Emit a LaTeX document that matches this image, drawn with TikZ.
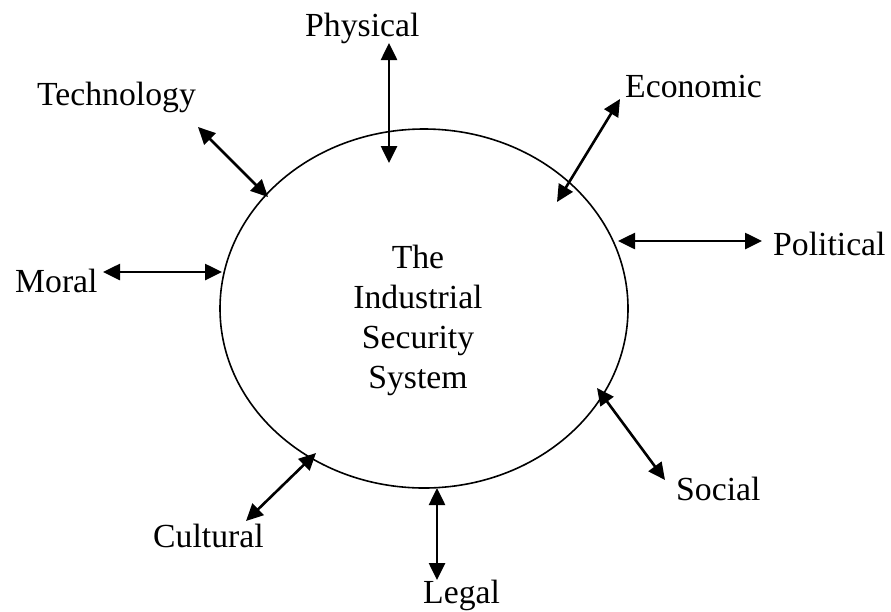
\documentclass[tikz,border=0pt]{standalone}
\usepackage{fontspec}
\setmainfont{Liberation Serif}
\usetikzlibrary{arrows.meta,shapes.geometric}
\begin{document}
\begin{tikzpicture}[x=1pt,y=-1pt,
  lbl/.style={font=\fontsize{33.7}{40}\selectfont, inner sep=0pt, anchor=base west},
  link/.style={line width=2.6pt, {Triangle[length=17pt,width=16pt]}-{Triangle[length=17pt,width=16pt]}},
  sysbox/.style={draw, line width=1.6pt, ellipse, minimum width=408pt, minimum height=359pt, inner sep=0pt}]
\useasboundingbox (0,0) rectangle (891,611);
\node[sysbox] (sys) at (424,308.5) {};
\node[font=\fontsize{33.7}{40}\selectfont, align=center, inner sep=0pt] (systxt) at (418,320) {The\\Industrial\\Security\\System};
% labels
\node[lbl] (tech) at (37,105) {Technology};
\node[lbl] (phys) at (305,36) {Physical};
\node[lbl] (econ) at (625,97) {Economic};
\node[lbl] (pol) at (773,255) {Political};
\node[lbl] (moral) at (15,292) {Moral};
\node[lbl] (cult) at (153,547) {Cultural};
\node[lbl] (legal) at (423,603) {Legal};
\node[lbl] (soc) at (676,500) {Social};
% arrow ends
\coordinate (t1) at (198,127); \coordinate (t2) at (268,197);
\coordinate (p1) at (389,43);  \coordinate (p2) at (389,163);
\coordinate (e1) at (620,99);  \coordinate (e2) at (557,202);
\coordinate (o1) at (618,241); \coordinate (o2) at (762,241);
\coordinate (m1) at (103,272); \coordinate (m2) at (222,272);
\coordinate (c1) at (246,521); \coordinate (c2) at (316,453);
\coordinate (l1) at (437,488); \coordinate (l2) at (437,580);
\coordinate (s1) at (597,388); \coordinate (s2) at (665,480);
\draw[link] (t1) -- (t2);
\draw[link] (p1) -- (p2);
\draw[link] (e1) -- (e2);
\draw[link] (o1) -- (o2);
\draw[link] (m1) -- (m2);
\draw[link] (c1) -- (c2);
\draw[link] (l1) -- (l2);
\draw[link] (s1) -- (s2);
\end{tikzpicture}
\end{document}
